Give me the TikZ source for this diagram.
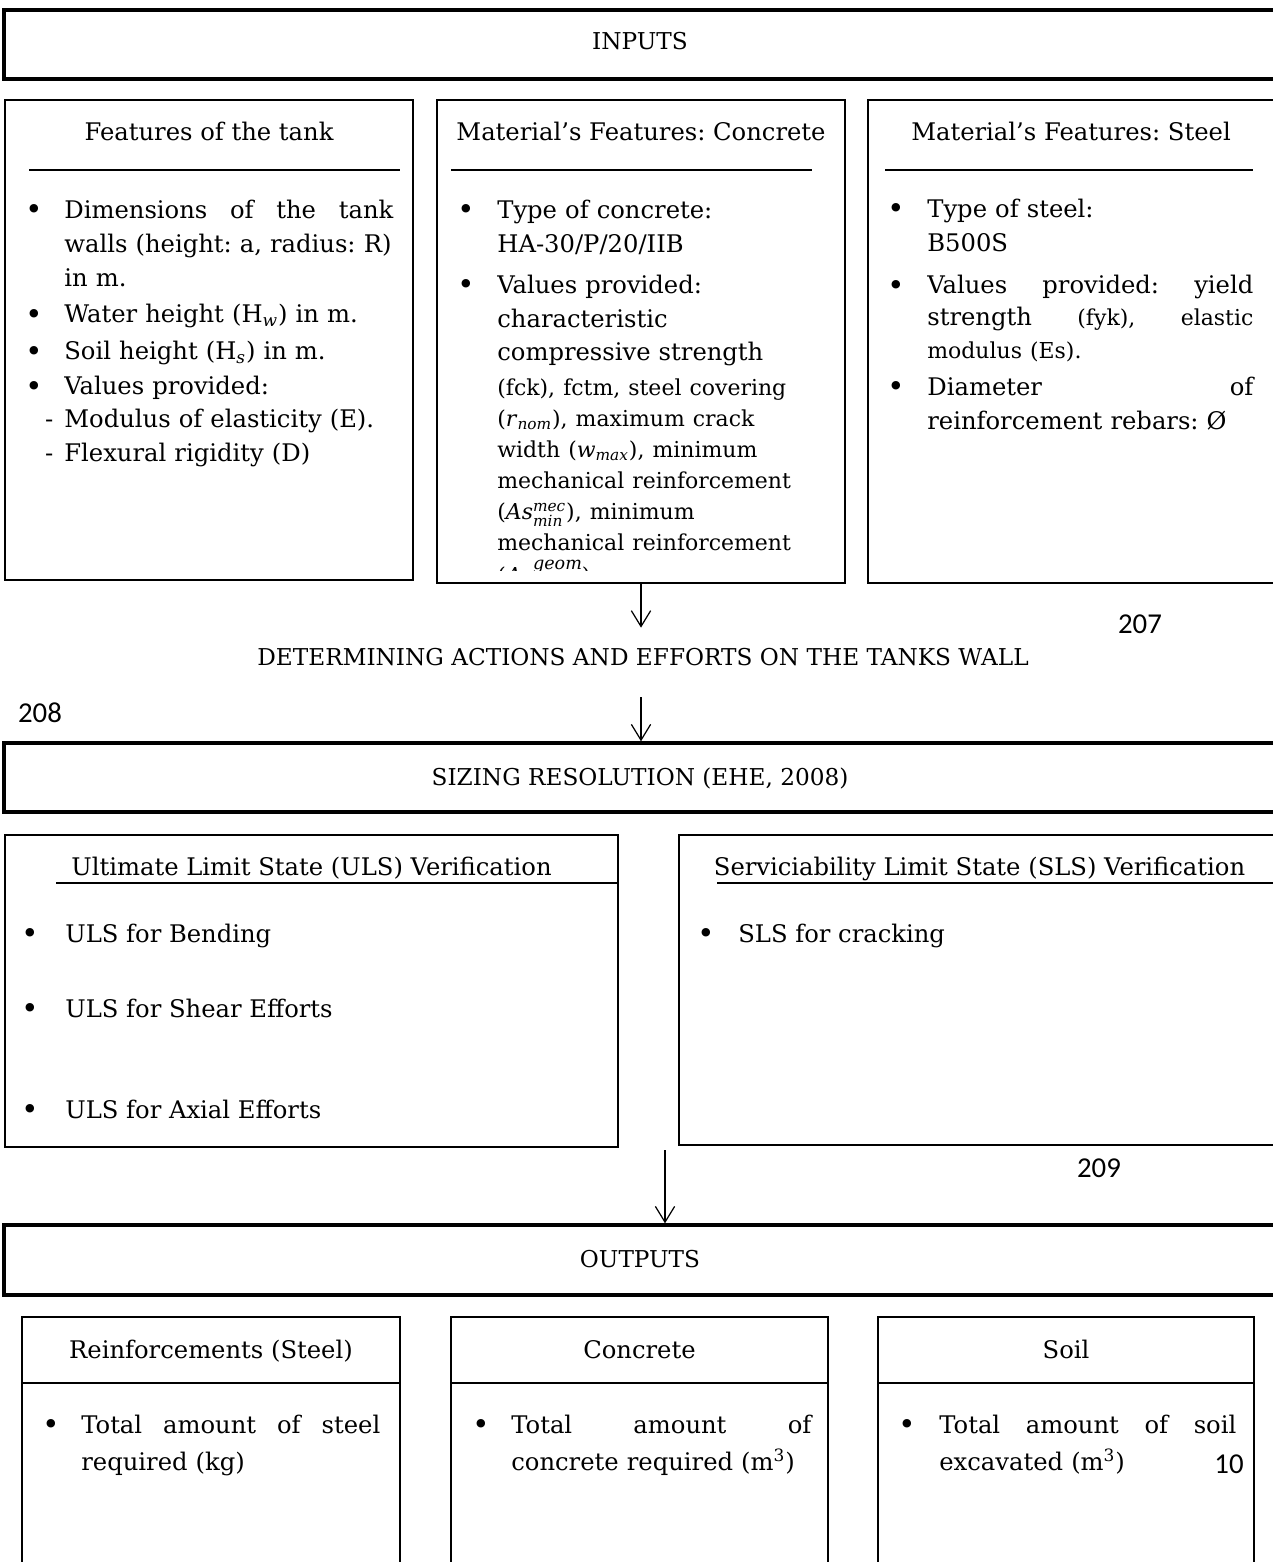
\documentclass[tikz,border=0pt]{standalone}
\usepackage{fontspec}
\usepackage{amsmath}
\setmainfont{DejaVu Serif}
\newfontfamily\numfont{Carlito}
\usetikzlibrary{arrows.meta}

\newdimen\upx \upx=0.02cm
\newdimen\hg
\makeatletter
\newcommand{\nl}{\@normalcr}
\makeatother
\newcommand{\bodyfont}{\fontsize{13.8pt}{19.27pt}\selectfont\frenchspacing\lineskiplimit=-100pt\relax}
\newcommand{\capfont}{\fontsize{13.2pt}{16pt}\selectfont}
\newcommand{\smallfont}{\fontsize{12.5pt}{17.6pt}\selectfont}
\newcommand{\blt}{\hbox to\hg{\hskip-0.6pt\raisebox{-0.8pt}{\fontsize{16.5pt}{16.5pt}\selectfont\textbullet}\hfil}}
\newcommand{\itm}[1][0pt]{\par\vspace{#1}\noindent\hangindent=\hg\hangafter=1\blt\strut\ignorespaces}

\begin{document}
\begin{tikzpicture}[x=0.02cm, y=-0.02cm,
    bigbox/.style={draw, line width=1.9pt, inner sep=0, minimum width=1272\upx,
        text height=42\upx, text depth=27\upx, font=\capfont},
    panel/.style={draw, line width=1.2pt, inner sep=0},
    head/.style={inner sep=0, anchor=base, font=\bodyfont},
    lst/.style={inner sep=0, anchor=north west, font=\bodyfont,
        execute at begin node={\hg=#1\relax}},
    item/.style={inner sep=0, anchor=base west, font=\bodyfont,
        execute at begin node={\hg=#1\relax}},
    pagenum/.style={inner sep=0, anchor=base, font=\numfont\fontsize{16.4pt}{19pt}\selectfont},
    sep/.style={line width=0.9pt},
    arrow/.style={-{Straight Barb[length=9pt, width=11pt]}, line width=0.7pt}
]

% Marco
\useasboundingbox (0,0) rectangle (1273,1562);
\clip (0,0) rectangle (1273,1562);

% Cajas principales
\node[bigbox, text height=39\upx, text depth=30\upx] (inputs) at (640,44.5) {INPUTS};
\node[bigbox] (sizing) at (640,777.5) {SIZING RESOLUTION (EHE, 2008)};
\node[bigbox, text depth=28\upx] (outputs) at (640,1260) {OUTPUTS};

% Entradas
\node[panel, minimum width=408\upx, minimum height=480\upx] (tankbox) at (209,340) {};
\node[panel, minimum width=408\upx, minimum height=483\upx] (concbox) at (641,341.5) {};
\node[panel, minimum width=408\upx, minimum height=483\upx] (steelbox) at (1072,341.5) {};
\node[head] (tankhead) at (209,140) {Features of the tank};
\node[head] (conchead) at (641,140) {Material’s Features: Concrete};
\node[head] (steelhead) at (1071,140) {Material’s Features: Steel};
\draw[sep] (29,170) -- (400,170);
\draw[sep] (451,170) -- (812,170);
\draw[sep] (885,170) -- (1253,170);

\node[lst=38\upx, text width=367\upx] (tanklist) at (26,184.2) {%
\itm Dimensions\hfill of\hfill the\hfill tank\nl
walls (height: a, radius: R)\nl
in m.
\itm[1.7pt] Water height (H\textsubscript{\textit{w}}) in m.
\itm[1.7pt] Soil height (H\textsubscript{\textit{s}}) in m.
\itm[0.6pt] Values provided:\nl[-0.6pt]
\llap{-\hskip 11\upx}Modulus of elasticity (E).\nl
\llap{-\hskip 11\upx}Flexural rigidity (D)\par};

\begin{scope}
\clip (437,100) rectangle (845,570);
\node[lst=39\upx, text width=354\upx] (conclist) at (458,184.2) {%
\itm Type of concrete:\nl
HA-30/P/20/IIB
\itm[4pt] Values provided:\nl
characteristic\nl
compressive strength\nl[0.6pt]
{\smallfont (fck), fctm, steel covering}\nl[-1.7pt]
{\smallfont (\textit{r}$_{\textit{nom}}$), maximum crack}\nl[-1.7pt]
{\smallfont width (\textit{w}$_{\textit{max}}$), minimum}\nl[-1.7pt]
{\smallfont mechanical reinforcement}\nl[-1.7pt]
{\smallfont (\textit{As}$^{\textit{mec}}_{\textit{min}}$), minimum}\nl[-1.7pt]
{\smallfont mechanical reinforcement}\nl
{\smallfont (\textit{As}\raisebox{8pt}{\fontsize{10pt}{10pt}\selectfont\textit{geom}})}\par};
\end{scope}

\node[lst=39\upx, text width=365\upx] (steellist) at (888,183.2) {%
\itm Type of steel:\nl
B500S
\itm[5pt] Values\hfill provided:\hfill yield\nl[-1.1pt]
strength\hfill{\smallfont (fyk),}\hfill{\smallfont elastic}\nl[-0.6pt]
{\smallfont modulus (Es).}
\itm[1.7pt] Diameter\hfill of\nl
reinforcement rebars: Ø\par};

% Acciones
\node[inner sep=0, text height=37\upx, text depth=32\upx, font=\capfont] (determ) at (643,662.5)
    {DETERMINING ACTIONS AND EFFORTS ON THE TANKS WALL};

% Verificaciones
\node[panel, minimum width=613\upx, minimum height=312\upx] (ulsbox) at (311.5,991) {};
\node[panel, minimum width=611\upx, minimum height=310\upx] (slsbox) at (984.5,990) {};
\node[head] (ulshead) at (311.5,875) {Ultimate Limit State (ULS) Verification};
\node[head] (slshead) at (979.5,875) {Serviciability Limit State (SLS) Verification};
\draw[sep] (56,883) -- (618,883);
\draw[sep] (717,883) -- (1290,883);
\node[item=43\upx] (bend) at (22,942) {\blt ULS for Bending};
\node[item=43\upx] (shear) at (22,1017) {\blt ULS for Shear Efforts};
\node[item=43\upx] (axial) at (22,1118) {\blt ULS for Axial Efforts};
\node[item=40\upx] (crack) at (698,942) {\blt SLS for cracking};

% Salidas
\node[panel, minimum width=378\upx, minimum height=263\upx] (steelout) at (211,1448.5) {};
\node[panel, minimum width=377\upx, minimum height=263\upx] (concout) at (639.5,1448.5) {};
\node[panel, minimum width=376\upx, minimum height=263\upx] (soilout) at (1066,1448.5) {};
\node[head] (steelouthead) at (211,1358) {Reinforcements (Steel)};
\node[head] (concouthead) at (639.5,1358) {Concrete};
\node[head] (soilouthead) at (1066,1358) {Soil};
\draw[line width=1.2pt] (22,1383) -- (400,1383);
\draw[line width=1.2pt] (451,1383) -- (828,1383);
\draw[line width=1.2pt] (878,1383) -- (1254,1383);

\node[lst=38\upx, text width=337\upx] (steeloutlist) at (43,1399.2) {%
\itm Total\hfill amount\hfill of\hfill steel\nl[1.7pt]
required (kg)\par};
\node[lst=38\upx, text width=338\upx] (concoutlist) at (473,1399.2) {%
\itm Total\hfill amount\hfill of\nl[1.7pt]
concrete required (m\textsuperscript{3})\par};
\node[lst=40\upx, text width=337\upx] (soiloutlist) at (899,1399.2) {%
\itm Total\hfill amount\hfill of\hfill soil\nl[1.7pt]
excavated (m\textsuperscript{3})\par};

% Numeros
\node[pagenum] (p207) at (1140,633) {207};
\node[pagenum] (p208) at (40,722) {208};
\node[pagenum] (p209) at (1099,1177) {209};
\node[pagenum] (p10) at (1229,1473) {10};

% Flechas
\coordinate (verif) at (665,1150);
\draw[arrow] (concbox.south) -- (concbox.south |- determ.north);
\draw[arrow] (determ.south -| concbox.south) -- (concbox.south |- sizing.north);
\draw[arrow] (verif) -- (verif |- outputs.north);

\end{tikzpicture}
\end{document}
